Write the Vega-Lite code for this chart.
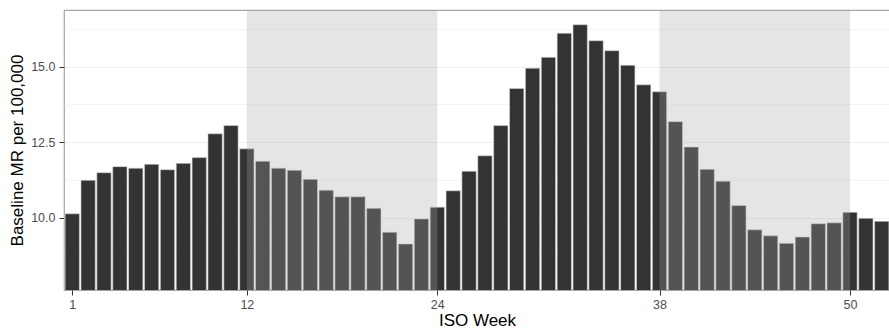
{
  "$schema": "https://vega.github.io/schema/vega-lite/v6.json",
  "width": 826,
  "height": 280,
  "autosize": {"type": "none"},
  "padding": {"left": 64, "top": 10, "right": 0, "bottom": 39},
  "background": "white",
  "config": {
    "font": "Liberation Sans",
    "view": {"stroke": "#a6a6a6", "strokeWidth": 1.2},
    "axis": {
      "labelFont": "Liberation Sans",
      "titleFont": "Liberation Sans",
      "labelFontSize": 12.5,
      "labelColor": "#4d4d4d",
      "titleFontSize": 17,
      "titleFontWeight": "normal",
      "titleColor": "#000000",
      "tickColor": "#333333",
      "tickSize": 5,
      "domain": false
    }
  },
  "datasets": {
    "bars": [
      {"week": 1, "mr": 10.13}, {"week": 2, "mr": 11.24}, {"week": 3, "mr": 11.49},
      {"week": 4, "mr": 11.69}, {"week": 5, "mr": 11.64}, {"week": 6, "mr": 11.77},
      {"week": 7, "mr": 11.59}, {"week": 8, "mr": 11.8}, {"week": 9, "mr": 11.99},
      {"week": 10, "mr": 12.78}, {"week": 11, "mr": 13.05}, {"week": 12, "mr": 12.28},
      {"week": 13, "mr": 11.87}, {"week": 14, "mr": 11.64}, {"week": 15, "mr": 11.57},
      {"week": 16, "mr": 11.27}, {"week": 17, "mr": 10.91}, {"week": 18, "mr": 10.69},
      {"week": 19, "mr": 10.69}, {"week": 20, "mr": 10.31}, {"week": 21, "mr": 9.52},
      {"week": 22, "mr": 9.13}, {"week": 23, "mr": 9.96}, {"week": 24, "mr": 10.35},
      {"week": 25, "mr": 10.89}, {"week": 26, "mr": 11.54}, {"week": 27, "mr": 12.05},
      {"week": 28, "mr": 13.05}, {"week": 29, "mr": 14.28}, {"week": 30, "mr": 14.95},
      {"week": 31, "mr": 15.31}, {"week": 32, "mr": 16.11}, {"week": 33, "mr": 16.39},
      {"week": 34, "mr": 15.86}, {"week": 35, "mr": 15.53}, {"week": 36, "mr": 15.05},
      {"week": 37, "mr": 14.4}, {"week": 38, "mr": 14.17}, {"week": 39, "mr": 13.18},
      {"week": 40, "mr": 12.34}, {"week": 41, "mr": 11.6}, {"week": 42, "mr": 11.21},
      {"week": 43, "mr": 10.4}, {"week": 44, "mr": 9.6}, {"week": 45, "mr": 9.4},
      {"week": 46, "mr": 9.15}, {"week": 47, "mr": 9.36}, {"week": 48, "mr": 9.8},
      {"week": 49, "mr": 9.83}, {"week": 50, "mr": 10.18}, {"week": 51, "mr": 9.98},
      {"week": 52, "mr": 9.88}
    ],
    "shades": [
      {"start": 12, "end": 24},
      {"start": 38, "end": 50}
    ]
  },
  "layer": [
    {
      "data": {"name": "bars"},
      "mark": {"type": "bar", "width": 14.3, "fill": "#333333", "stroke": "#d9d9d9", "strokeWidth": 0.6, "clip": true},
      "encoding": {
        "x": {
          "field": "week",
          "type": "quantitative",
          "scale": {"domain": [0.48, 52.52], "nice": false, "zero": false, "padding": 0},
          "axis": {
            "title": "ISO Week",
            "values": [1, 12, 24, 38, 50],
            "grid": false,
            "labelPadding": 3,
            "titlePadding": 2,
            "labelFlush": false
          }
        },
        "y": {
          "field": "mr",
          "type": "quantitative",
          "scale": {"domain": [7.606, 16.877], "nice": false, "zero": false},
          "axis": {
            "title": "Baseline MR per 100,000",
            "values": [8.75, 10, 11.25, 12.5, 13.75, 15, 16.25],
            "labelExpr": "datum.value % 2.5 == 0 ? format(datum.value, '.1f') : ''",
            "tickOpacity": {"condition": {"test": "datum.value % 2.5 != 0", "value": 0}, "value": 1},
            "grid": true,
            "gridColor": "#efefef",
            "gridWidth": {"condition": {"test": "datum.value % 2.5 != 0", "value": 0.6}, "value": 1},
            "labelPadding": 4,
            "titlePadding": 4,
            "labelFlush": false
          }
        }
      }
    },
    {
      "data": {"name": "shades"},
      "mark": {"type": "rect", "fill": "#a6a6a6", "opacity": 0.29},
      "encoding": {
        "x": {"field": "start", "type": "quantitative"},
        "x2": {"field": "end"}
      }
    }
  ]
}
